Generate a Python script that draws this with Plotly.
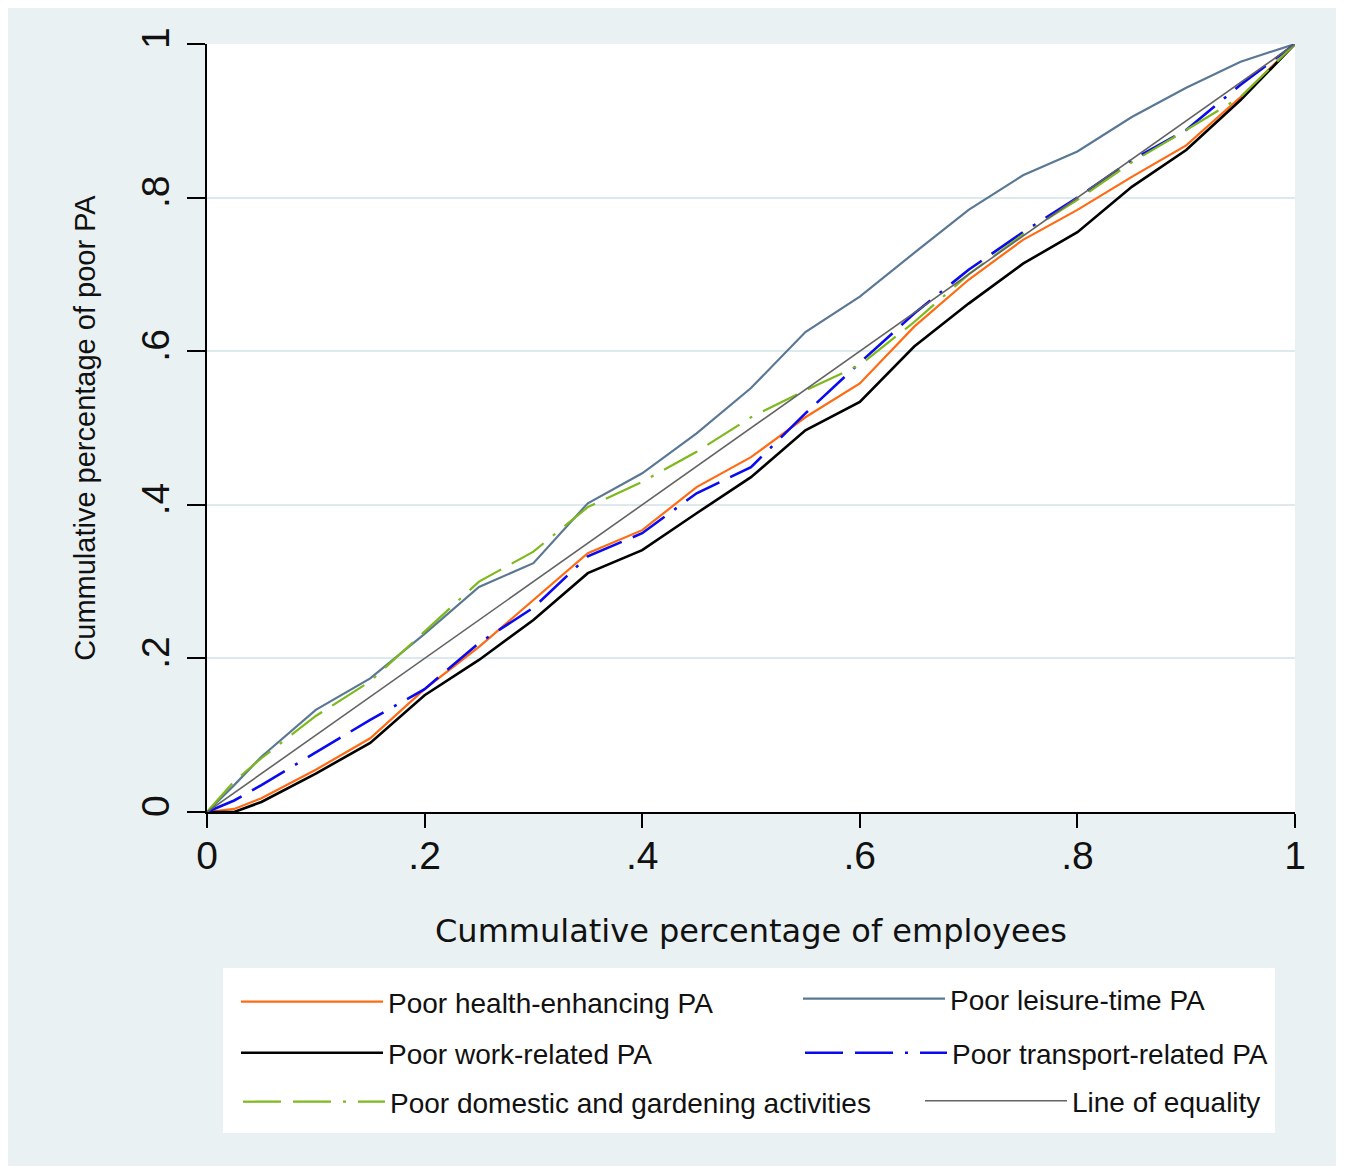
import plotly.graph_objects as go

# ---- data ----
cum_employees = [0, 0.025, 0.05, 0.10, 0.15, 0.20, 0.25, 0.30, 0.35, 0.40, 0.45,
                 0.50, 0.55, 0.60, 0.65, 0.70, 0.75, 0.80, 0.85, 0.90, 0.95, 1.0]
health_enhancing = [0, 0.004, 0.018, 0.055, 0.096, 0.160, 0.215, 0.276, 0.337, 0.367, 0.423,
                    0.462, 0.514, 0.558, 0.632, 0.693, 0.745, 0.784, 0.827, 0.868, 0.931, 1.0]
leisure_time = [0, 0.035, 0.072, 0.133, 0.174, 0.232, 0.293, 0.324, 0.402, 0.441, 0.493,
                0.552, 0.625, 0.671, 0.728, 0.784, 0.829, 0.860, 0.905, 0.943, 0.977, 1.0]
work_related = [0, 0.000, 0.013, 0.050, 0.090, 0.152, 0.198, 0.250, 0.311, 0.341, 0.389,
                0.436, 0.497, 0.534, 0.606, 0.662, 0.714, 0.755, 0.814, 0.862, 0.927, 1.0]
transport_related = [0, 0.015, 0.035, 0.078, 0.120, 0.160, 0.220, 0.266, 0.333, 0.363, 0.415,
                     0.449, 0.519, 0.585, 0.649, 0.706, 0.755, 0.800, 0.849, 0.888, 0.947, 1.0]
domestic_gardening = [0, 0.040, 0.070, 0.125, 0.170, 0.235, 0.300, 0.339, 0.397, 0.430, 0.469,
                      0.514, 0.549, 0.582, 0.638, 0.700, 0.752, 0.797, 0.846, 0.888, 0.931, 1.0]
equality_x = [0, 1]
equality_y = [0, 1]

tick_vals = [0, 0.2, 0.4, 0.6, 0.8, 1]
tick_text = ["0", ".2", ".4", ".6", ".8", "1"]

BG = "#EAF1F3"
FONT = "Liberation Sans, Arial, sans-serif"
DASH = "38px,12px,38px,12px,3px,12px"

# page body has an 8px margin; figure origin sits at (8, 8) on the page
OFF = 8
W, H = 1328, 1158
L, T = 207 - OFF, 44 - OFF
R = W - (1295 - OFF)
B = H - (812 - OFF)
pw, ph = W - L - R, H - T - B


def px_x(p):
    return (p - OFF - L) / pw


def px_y(p):
    return (H - B - (p - OFF)) / ph


series = [
    # name, y-values, colour, width, dash, legend id, legend box left px, legend row px
    ("Poor health-enhancing PA", health_enhancing, "#FF6A13", 2.2, "solid", "legend", 236, 1002),
    ("Poor leisure-time PA", leisure_time, "#5A7894", 2.2, "solid", "legend2", 798, 999),
    ("Poor work-related PA", work_related, "#000000", 2.6, "solid", "legend3", 236, 1053),
    ("Poor transport-related PA", transport_related, "#0A0AF0", 2.6, DASH, "legend4", 800, 1053),
    ("Poor domestic and gardening activities", domestic_gardening, "#7DB91C", 2.2, DASH,
     "legend5", 238, 1102),
    ("Line of equality", None, "#636363", 1.6, "solid", "legend6", 920, 1101),
]

fig = go.Figure()
legends = {}
for name, yv, color, width, dash, lg, lx, ly in series:
    if yv is None:
        xs, ys = equality_x, equality_y
    else:
        xs, ys = cum_employees, yv
    fig.add_trace(go.Scatter(x=xs, y=ys, mode="lines", name=name, legend=lg,
                             showlegend=True,
                             line=dict(color=color, width=width, dash=dash)))
    legends[lg] = dict(orientation="v", bgcolor="rgba(0,0,0,0)", xanchor="left",
                       yanchor="middle", itemwidth=142, visible=True,
                       font=dict(family=FONT, size=28, color="#111111"),
                       itemclick=False, itemdoubleclick=False,
                       x=px_x(lx), y=px_y(ly))

fig.update_layout(
    width=W, height=H,
    margin=dict(l=L, r=R, t=T, b=B),
    paper_bgcolor=BG, plot_bgcolor="white",
    font=dict(family=FONT, color="#111111"),
    showlegend=True,
    shapes=[
        dict(type="rect", xref="paper", yref="paper", layer="below",
             x0=px_x(223), x1=px_x(1275), y0=px_y(1133), y1=px_y(968),
             fillcolor="white", line=dict(width=0)),
    ],
    **legends,
)

fig.update_xaxes(
    range=[0, 1], tickvals=tick_vals, ticktext=tick_text,
    showline=True, linecolor="black", linewidth=2, mirror=False,
    ticks="outside", ticklen=14, tickwidth=2, tickcolor="black",
    showgrid=False, zeroline=False, ticklabelstandoff=-6,
    tickfont=dict(family=FONT, size=39, color="#111111"),
    title=dict(text="Cummulative percentage of employees",
               font=dict(family="DejaVu Sans, " + FONT, size=32, color="#111111"),
               standoff=44),
)
fig.update_yaxes(
    range=[0, 1], tickvals=tick_vals, ticktext=tick_text, tickangle=-90,
    showline=True, linecolor="black", linewidth=2,
    ticks="outside", ticklen=18, tickwidth=2, tickcolor="black",
    showgrid=True, gridcolor="#DCE9ED", gridwidth=2, zeroline=False,
    ticklabelstandoff=2,
    tickfont=dict(family=FONT, size=39, color="#111111"),
    title=dict(text="Cummulative percentage of poor PA",
               font=dict(family=FONT, size=29, color="#111111"),
               standoff=30),
)

fig.write_html("out.html")
